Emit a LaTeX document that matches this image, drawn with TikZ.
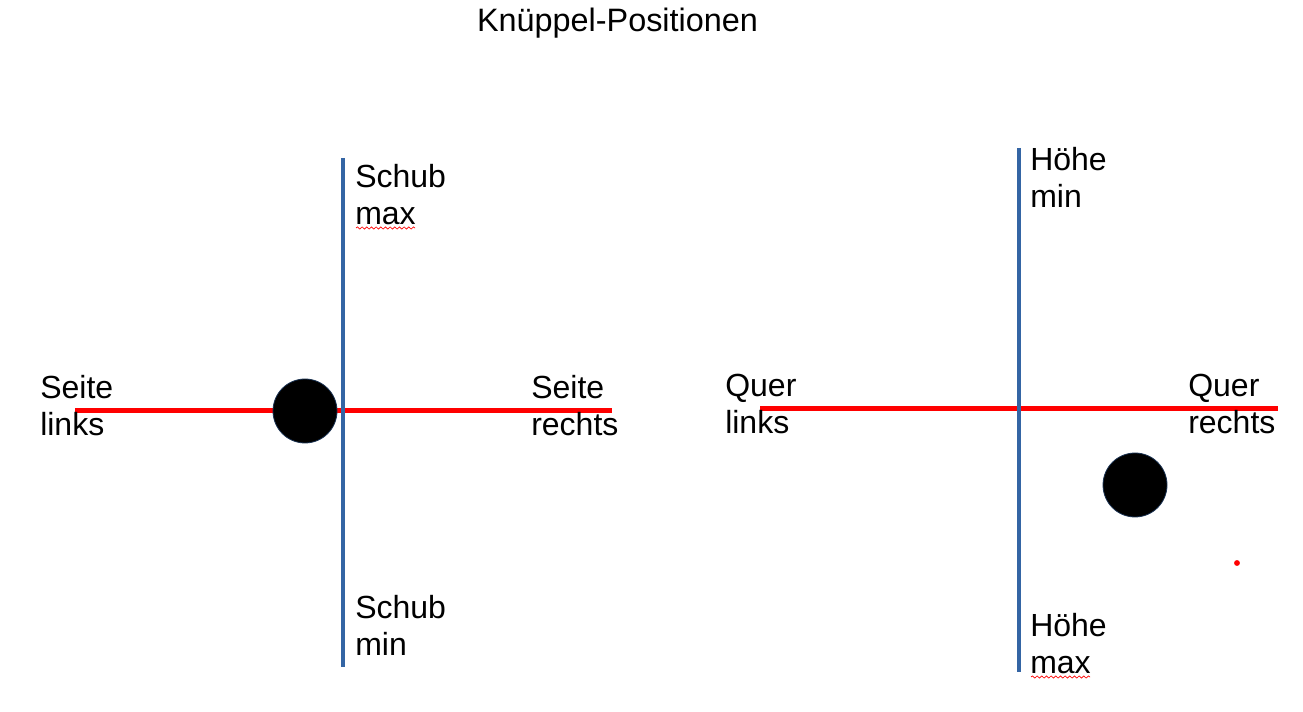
\documentclass[tikz,border=0pt]{standalone}
\usepackage{fontspec}
\setmainfont{Liberation Sans}
\usetikzlibrary{decorations.pathmorphing}
\definecolor{stickblue}{HTML}{3465A4}
\definecolor{stickred}{HTML}{FF0000}

\begin{document}
\begin{tikzpicture}[x=0.75pt,y=-0.75pt,
    vaxis/.style={draw=stickblue,line width=3.5pt},
    haxis/.style={draw=stickred,line width=3.75pt},
    lbl/.style={anchor=base west,align=left,inner sep=0pt,font=\fontsize{24}{27.75}\selectfont},
    knob/.style={circle,fill=black,draw=stickblue!50!black,line width=0.6pt,minimum size=48pt,inner sep=0pt},
    typo/.style={draw=stickred,line width=0.5pt,decorate,decoration={snake,amplitude=0.8pt,segment length=3.5pt}}]
    \useasboundingbox (0,0) rectangle (1303,712);
    \node[anchor=base,inner sep=0pt,font=\fontsize{24.3}{30}\selectfont] (title) at (617.5,32) {Knüppel-Positionen};
    % Schub / Seite
    \coordinate (schubtop) at (343,158);
    \coordinate (schubbot) at (343,667);
    \coordinate (seiteleft) at (75,411);
    \coordinate (seiteright) at (612,411);
    \draw[haxis] (seiteleft) -- (seiteright);
    \draw[vaxis] (schubtop) -- (schubbot);
    \node[knob] (knobleft) at (305,411) {};
    \node[lbl] (schubmax) at (355,225) {Schub\\max};
    \node[lbl] (schubmin) at (355,655) {Schub\\min};
    \node[lbl] (seitelinks) at (40,436) {Seite\\links};
    \node[lbl] (seiterechts) at (531,436) {Seite\\rechts};
    \draw[typo] (356,228) -- (415,228);
    % Hoehe / Quer
    \coordinate (hoehetop) at (1019,148);
    \coordinate (hoehebot) at (1019,672);
    \coordinate (querleft) at (760,409);
    \coordinate (querright) at (1278,409);
    \draw[haxis] (querleft) -- (querright);
    \draw[vaxis] (hoehetop) -- (hoehebot);
    \node[knob] (knobright) at (1135,485) {};
    \node[lbl] (hoehemin) at (1030,208) {Höhe\\min};
    \node[lbl] (hoehemax) at (1030,673) {Höhe\\max};
    \node[lbl] (querlinks) at (725,434) {Quer\\links};
    \node[lbl] (querrechts) at (1188,434) {Quer\\rechts};
    \draw[typo] (1031,677) -- (1090,677);
    \fill[stickred] (1237,563) circle (2.2pt);
\end{tikzpicture}
\end{document}
